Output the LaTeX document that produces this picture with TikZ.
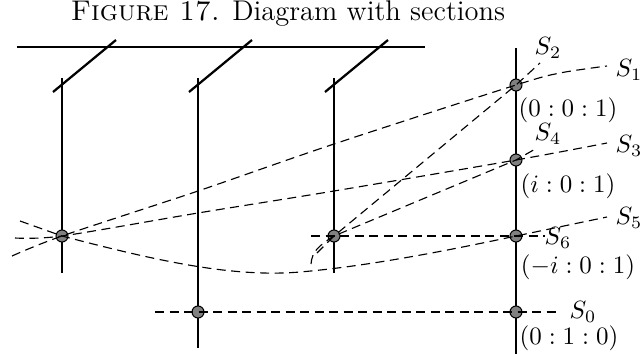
\documentclass[tikz,border=0pt]{standalone}
\begin{document}
\begin{tikzpicture}[x=0.4pt,y=-0.4pt,
  solidline/.style={line width=0.9pt},
  dline/.style={line width=0.45pt, dash pattern=on 3.6pt off 2.2pt},
  pt/.style={circle, draw=black, fill=gray, line width=0.4pt, inner sep=0pt, minimum size=4.8pt},
  lab/.style={inner sep=0pt}]
\useasboundingbox (0,0) rectangle (642,354);
% title
\node[lab] (title) at (288,14) {\fontsize{11.4pt}{13.5pt}\selectfont\textsc{Figure 17.} Diagram with sections};
% solid skeleton
\coordinate (ht1) at (17,47); \coordinate (ht2) at (425,47);
\draw[solidline] (ht1) -- (ht2);
\coordinate (v1t) at (62,78);  \coordinate (v1b) at (62,273);
\coordinate (v2t) at (198,78); \coordinate (v2b) at (198,348);
\coordinate (v3t) at (334,78); \coordinate (v3b) at (334,273);
\coordinate (v4t) at (516,48); \coordinate (v4b) at (516,354);
\draw[solidline] (v1t) -- (v1b);
\draw[solidline] (v2t) -- (v2b);
\draw[solidline] (v3t) -- (v3b);
\draw[solidline] (v4t) -- (v4b);
\coordinate (s1a) at (53,92);  \coordinate (s1b) at (116,40);
\coordinate (s2a) at (189,92); \coordinate (s2b) at (252,40);
\coordinate (s3a) at (325,92); \coordinate (s3b) at (388,40);
\draw[solidline] (s1a) -- (s1b);
\draw[solidline] (s2a) -- (s2b);
\draw[solidline] (s3a) -- (s3b);
% points
\node[pt] (L)  at (62,236) {};
\node[pt] (M)  at (334,236) {};
\node[pt] (B)  at (198,312) {};
\node[pt] (R1) at (516,85) {};
\node[pt] (R2) at (516,160) {};
\node[pt] (R3) at (516,236) {};
\node[pt] (R0) at (516,312) {};
% dashed sections
\coordinate (a0) at (12,256); \coordinate (a1) at (607,66);
\draw[dline] plot[smooth] coordinates {(a0) (L.center) (198,191) (334,144) (R1.center) (560,73) (a1)};
\coordinate (b0) at (15,238); \coordinate (b1) at (607,143);
\draw[dline] plot[smooth] coordinates {(b0) (L.center) (198,213) (334,191) (R2.center) (b1)};
\coordinate (c0) at (20,221); \coordinate (cm) at (300,272); \coordinate (c1) at (607,217);
\draw[dline] (c0) -- (L.center) .. controls (150,259) and (230,278) .. (cm)
  .. controls (370,266) and (450,250) .. (R3.center) -- (c1);
\coordinate (d0) at (311,264); \coordinate (d1) at (540,63);
\draw[dline] (d0) .. controls (312,252) and (318,246) .. (M.center) -- (R1.center) -- (d1);
\coordinate (e0) at (317,253); \coordinate (e1) at (537,148);
\draw[dline] (e0) -- (M.center) -- (R2.center) -- (e1);
\coordinate (h6a) at (311,236); \coordinate (h6b) at (545,236);
\draw[dline] (h6a) -- (M.center) -- (R3.center) -- (h6b);
\coordinate (h0a) at (155,312); \coordinate (h0b) at (558,312);
\draw[dline] (h0a) -- (B.center) -- (R0.center) -- (h0b);
% labels
\node[lab] (lS2) at (548,48) {$S_2$};
\node[lab] (lS1) at (629,70) {$S_1$};
\node[lab] (lp1) at (568,110) {$(0:0:1)$};
\node[lab] (lS4) at (548,134) {$S_4$};
\node[lab] (lS3) at (629,146) {$S_3$};
\node[lab] (lp2) at (568,186) {$(i:0:1)$};
\node[lab] (lS5) at (629,218) {$S_5$};
\node[lab] (lS6) at (558,238) {$S_6$};
\node[lab] (lp3) at (578,267) {$(-i:0:1)$};
\node[lab] (lS0) at (583,312) {$S_0$};
\node[lab] (lp0) at (569,338) {$(0:1:0)$};
\end{tikzpicture}
\end{document}
